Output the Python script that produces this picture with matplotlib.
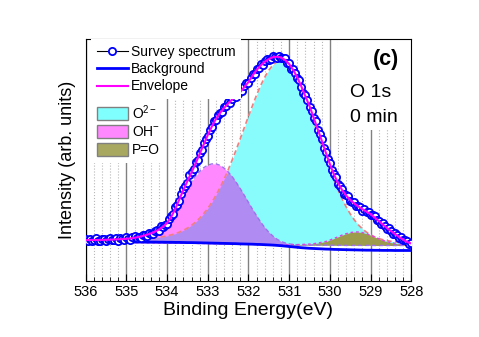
import matplotlib
matplotlib.use("Agg")
import matplotlib.pyplot as plt
import numpy as np
from matplotlib.patches import Patch, Rectangle
from matplotlib.ticker import MultipleLocator

plt.rcParams['font.family'] = ['Liberation Sans', 'DejaVu Sans']
plt.rcParams['mathtext.fontset'] = 'custom'
plt.rcParams['mathtext.rm'] = 'Liberation Sans'
plt.rcParams['mathtext.it'] = 'Liberation Sans:italic'
plt.rcParams['mathtext.bf'] = 'Liberation Sans:bold'

# O 1s region, 536 -> 528 eV
binding_energy = np.linspace(536.0, 528.0, 81)    # fit curves, 0.1 eV step
survey_energy = np.linspace(536.0, 528.0, 161)    # measured points, 0.05 eV step

survey = [41.9, 40.2, 42.3, 39.9, 41.2, 42.5, 40.4, 39.7, 41.8, 42.3,
          40.0, 41.7, 42.9, 40.5, 41.2, 42.8, 40.2, 42.6, 42.0, 41.1,
          43.6, 41.9, 41.3, 43.8, 44.9, 42.8, 44.3, 42.9, 46.1, 46.2,
          45.1, 48.4, 47.2, 46.8, 50.3, 50.9, 50.3, 54.7, 53.6, 56.4,
          56.6, 62.3, 64.7, 67.0, 73.6, 76.2, 80.0, 87.2, 92.2, 95.2,
          98.4, 105.7, 108.9, 111.9, 119.2, 121.4, 127.6, 130.5, 138.0, 141.5,
          144.8, 151.4, 154.0, 159.9, 160.6, 165.8, 168.3, 168.8, 174.3, 174.7,
          178.5, 178.0, 182.0, 184.7, 184.1, 186.8, 190.6, 190.2, 194.7, 197.7,
          198.0, 202.7, 207.0, 206.7, 211.9, 212.9, 216.7, 216.2, 219.9, 222.4,
          221.2, 221.5, 224.9, 224.4, 222.8, 225.2, 222.8, 223.1, 222.5, 217.9,
          217.5, 212.4, 212.2, 207.5, 202.5, 200.6, 194.0, 188.2, 185.9, 180.5,
          173.5, 170.3, 163.2, 159.5, 150.8, 146.7, 141.6, 132.9, 129.4, 122.2,
          118.3, 110.7, 107.1, 103.8, 96.6, 94.7, 92.0, 86.6, 86.3, 84.7,
          80.1, 78.9, 79.1, 74.8, 75.0, 74.3, 70.3, 71.5, 69.1, 69.4,
          65.5, 65.9, 65.0, 60.8, 60.3, 56.7, 57.7, 55.4, 51.9, 52.9,
          49.5, 47.2, 48.0, 46.3, 42.6, 44.3, 40.6, 40.6, 40.2, 37.3, 38.1]

envelope = [41.0, 41.0, 41.0, 41.0, 41.1, 41.2, 41.3, 41.5, 41.7, 41.9,
            42.2, 42.6, 43.2, 44.0, 45.0, 46.2, 47.6, 49.3, 51.5, 54.3,
            58.0, 64.0, 72.0, 81.5, 91.0, 100.0, 108.5, 117.5, 127.0, 136.5,
            146.0, 154.5, 162.0, 168.0, 173.0, 177.5, 181.5, 185.0, 189.0, 194.0,
            199.0, 205.5, 211.0, 215.5, 219.3, 222.0, 223.8, 224.3, 223.5, 221.0,
            217.0, 211.0, 203.5, 194.5, 184.5, 175.0, 163.5, 152.0, 140.5, 128.5,
            117.0, 106.5, 98.0, 91.0, 85.5, 81.0, 77.5, 74.5, 71.8, 69.3,
            66.8, 63.5, 60.0, 56.5, 53.0, 50.0, 47.0, 44.0, 41.3, 39.0, 37.5]

background = [39.3, 39.3, 39.3, 39.3, 39.2, 39.2, 39.2, 39.2, 39.2, 39.1,
              39.1, 39.1, 39.0, 39.0, 39.0, 38.9, 38.9, 38.9, 38.8, 38.8,
              38.7, 38.7, 38.6, 38.6, 38.5, 38.4, 38.4, 38.3, 38.2, 38.1,
              38.0, 37.9, 37.8, 37.7, 37.6, 37.5, 37.4, 37.3, 37.1, 37.0,
              36.9, 36.8, 36.6, 36.5, 36.3, 36.1, 35.9, 35.6, 35.3, 34.9,
              34.5, 34.1, 33.7, 33.3, 33.0, 32.7, 32.5, 32.3, 32.1, 31.9,
              31.8, 31.6, 31.5, 31.4, 31.3, 31.2, 31.1, 31.0, 30.9, 30.8,
              30.8, 30.7, 30.7, 30.6, 30.6, 30.6, 30.5, 30.5, 30.5, 30.5, 30.5]

# baseline the fitted components sit on
peak_base = [38.6, 38.6, 38.6, 38.6, 38.5, 38.5, 38.5, 38.5, 38.4, 38.4,
             38.4, 38.3, 38.3, 38.3, 38.2, 38.2, 38.2, 38.1, 38.1, 38.0,
             38.0, 37.9, 37.9, 37.8, 37.8, 37.7, 37.7, 37.6, 37.5, 37.5,
             37.4, 37.3, 37.3, 37.2, 37.1, 37.1, 37.0, 36.9, 36.9, 36.8,
             36.7, 36.6, 36.6, 36.5, 36.4, 36.3, 36.3, 36.2, 36.1, 36.1,
             36.0, 36.0, 35.9, 35.9, 35.9, 35.8, 35.8, 35.8, 35.8, 35.7,
             35.7, 35.7, 35.7, 35.7, 35.6, 35.6, 35.6, 35.6, 35.6, 35.6,
             35.6, 35.5, 35.5, 35.5, 35.5, 35.5, 35.5, 35.5, 35.5, 35.5, 35.5]

o2_peak = [1.9, 1.9, 2.0, 2.2, 2.3, 2.4, 2.5, 2.6, 2.7, 2.8,
           3.0, 3.2, 3.4, 3.6, 3.9, 4.2, 4.6, 5.0, 5.6, 6.3,
           7.1, 8.2, 9.4, 11.0, 12.9, 15.2, 18.0, 21.3, 25.3, 29.9,
           35.2, 41.4, 48.4, 56.1, 64.7, 74.0, 84.1, 94.6, 105.6, 116.9,
           128.1, 139.0, 149.5, 159.1, 167.5, 174.5, 179.7, 182.9, 184.0, 182.9,
           179.7, 174.3, 167.0, 158.0, 147.5, 136.0, 124.0, 112.0, 100.0, 88.0,
           76.5, 65.5, 55.5, 46.5, 38.5, 31.5, 25.5, 20.5, 16.5, 13.2,
           10.6, 8.6, 7.0, 5.8, 4.9, 4.2, 3.7, 3.3, 3.0, 2.8, 2.6]

oh_peak = [0.3, 0.3, 0.4, 0.4, 0.4, 0.5, 0.5, 0.6, 0.7, 0.9,
           1.2, 1.6, 2.2, 3.1, 4.3, 5.8, 7.5, 9.5, 12.0, 15.0,
           19.0, 25.0, 33.0, 42.0, 49.4, 55.7, 61.8, 67.3, 72.0, 75.8,
           78.5, 79.8, 79.8, 78.5, 75.8, 72.0, 67.3, 61.6, 55.3, 48.6,
           41.8, 35.0, 28.5, 22.4, 17.0, 12.4, 8.6, 5.6, 3.4, 2.0,
           1.1, 0.6, 0.3, 0.2, 0.2, 0.1, 0.1, 0.1, 0.1, 0.1,
           0.1, 0.0, 0.0, 0.0, 0.0, 0.0, 0.0, 0.0, 0.0, 0.0,
           0.0, 0.0, 0.0, 0.0, 0.0, 0.0, 0.0, 0.0, 0.0, 0.0, 0.0]

po_peak = [0.0] * 46 + [0.1, 0.1, 0.2, 0.2, 0.3, 0.4, 0.5, 0.6, 0.8, 1.1,
                        1.5, 2.1, 2.9, 3.8, 5.2, 6.8, 8.5, 10.2, 11.7, 12.8,
                        13.4, 13.4, 12.8, 11.7, 10.2, 8.5, 6.8, 5.2, 3.8, 2.9,
                        2.1, 1.5, 1.1, 0.8, 0.6]

x_ticks = [536, 535, 534, 533, 532, 531, 530, 529, 528]

be = binding_energy
base = np.array(peak_base)
o2 = np.array(o2_peak)
oh = np.array(oh_peak)
po = np.array(po_peak)

fig = plt.figure(figsize=(4.79, 3.37), dpi=100)
ax = fig.add_axes([0.1789, 0.1662, 0.6797, 0.7181])

# component fills
ax.fill_between(be, base, base + o2, color='#88FCFC', lw=0, zorder=2)
ax.fill_between(be, base, base + oh, color='#FF88FF', lw=0, zorder=2.1)
ax.fill_between(be, base, base + np.minimum(o2, oh), color='#B08CF2', lw=0, zorder=2.2)
ax.fill_between(be, base, base + po, color='#9C9C4C', lw=0, zorder=2.3)
ax.plot(be, base + o2, color='#F08080', ls=(0, (3, 2)), lw=1.2, zorder=2.5)
ax.plot(be, base + oh, color='#A070F0', ls=(0, (3, 2)), lw=1.0, zorder=2.5)
ax.plot(be, base + po, color='#E040E0', ls=(0, (2, 2)), lw=1.0, zorder=2.5)

l_bg, = ax.plot(be, background, color='#0000FF', lw=2, zorder=3)
l_sv, = ax.plot(survey_energy, survey, color='black', lw=0.8, marker='o', ms=5.2,
                mec='#0000FF', mfc='white', mew=1.3, zorder=3.5)
l_env, = ax.plot(be, envelope, color='#FF00FF', lw=1.5, zorder=4)

ax.set_xlim(536, 528)
ax.set_ylim(0, 242)
ax.set_xticks(x_ticks)
ax.set_xticklabels([str(t) for t in x_ticks], fontsize=10.5)
ax.xaxis.set_minor_locator(MultipleLocator(0.2))
ax.tick_params(axis='x', which='major', direction='in', length=5, pad=3)
ax.tick_params(axis='x', which='minor', direction='in', length=3)
ax.set_yticks([])
ax.set_axisbelow(True)
ax.grid(True, which='major', axis='x', color='#808080', lw=1)
ax.grid(True, which='minor', axis='x', color='#B8B8B8', ls=':', lw=0.8)

ax.set_xlabel('Binding Energy(eV)', fontsize=14, labelpad=2)
ax.set_ylabel('Intensity (arb. units)', fontsize=13, labelpad=7)

# white area behind the sample labels
ax.add_patch(Rectangle((0.776, 0.624), 0.224, 0.376, transform=ax.transAxes,
                       fc='white', ec='none', zorder=1))
ax.text(0.962, 0.893, '(c)', transform=ax.transAxes, fontsize=15.5,
        fontweight='bold', ha='right', va='baseline', zorder=5)
ax.text(0.812, 0.760, 'O 1s', transform=ax.transAxes, fontsize=14,
        ha='left', va='baseline', zorder=5)
ax.text(0.812, 0.657, '0 min', transform=ax.transAxes, fontsize=14,
        ha='left', va='baseline', zorder=5)

leg1 = ax.legend([l_sv, l_bg, l_env], ['Survey spectrum', 'Background', 'Envelope'],
                 loc='upper left', bbox_to_anchor=(0.017, 1.0), borderaxespad=0,
                 borderpad=0.4, fontsize=10, handlelength=2.25, handletextpad=0.2,
                 labelspacing=0.25, frameon=True, fancybox=False,
                 framealpha=1, facecolor='white', edgecolor='none')
ax.add_artist(leg1)

patches = [Patch(fc='#80FFFF', ec='#808080', lw=1),
           Patch(fc='#FF88FF', ec='#808080', lw=1),
           Patch(fc='#A8A860', ec='#808080', lw=1)]
ax.legend(patches, ['O$^{2-}$', 'OH$^{-}$', 'P=O'],
          loc='upper left', bbox_to_anchor=(0.017, 0.7587), borderaxespad=0,
          borderpad=0.4, fontsize=10, handlelength=2.25, handleheight=1.08,
          handletextpad=0.3, labelspacing=0.25, frameon=True, fancybox=False,
          framealpha=1, facecolor='white', edgecolor='none')

fig.savefig('out.png', dpi=100)
